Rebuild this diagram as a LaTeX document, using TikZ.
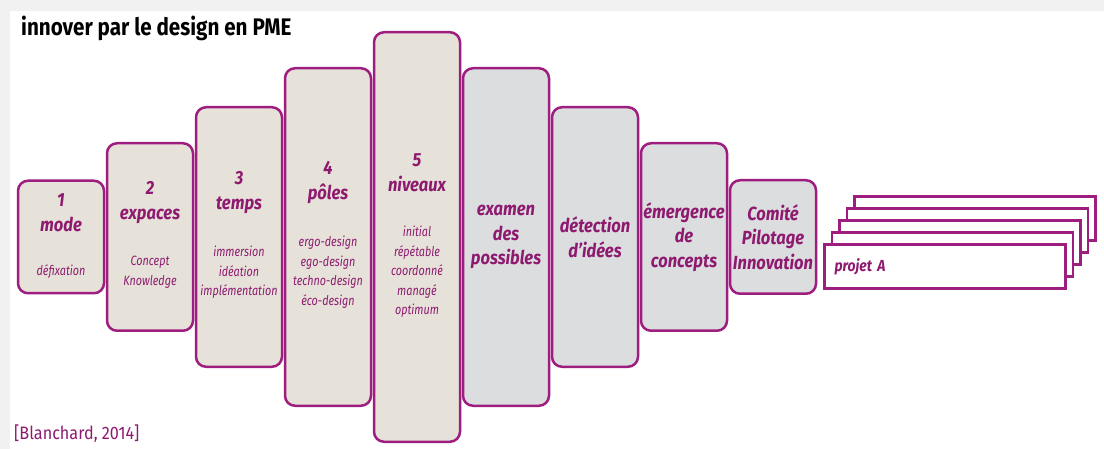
\documentclass[tikz,border=0pt]{standalone}
\usepackage{fontspec}
\setmainfont{Fira Sans}[FakeStretch=0.8]
\newfontfamily\headfont{Fira Sans}[FakeStretch=0.87]
\newfontfamily\titlefont{Fira Sans}[FakeStretch=0.86]
\newfontfamily\reffont{Fira Sans}[FakeStretch=0.9]
\usetikzlibrary{positioning}
\definecolor{pmeborder}{HTML}{9E1E80}
\definecolor{pmetext}{HTML}{8E1A70}
\definecolor{pmebeige}{HTML}{E6E2D9}
\definecolor{pmegrey}{HTML}{DCDDDF}
\definecolor{pmeshade}{HTML}{F1F1F1}

\begin{document}
\begin{tikzpicture}[
    x=1pt, y=-1pt,
    node distance=0.5pt,
    stage/.style={rectangle, rounded corners=10pt, draw=pmeborder, line width=2.5pt,
                  fill=pmebeige, minimum width=86pt, align=center, inner sep=0pt,
                  font=\headfont\fontsize{19}{24.5}\selectfont\bfseries\itshape, text=pmetext},
    phase/.style={stage, fill=pmegrey},
    head/.style={align=center, inner sep=0pt, text=pmetext,
                 font=\headfont\fontsize{19}{25}\selectfont\bfseries\itshape},
    sub/.style={align=center, inner sep=0pt, anchor=north, text=pmetext,
                font=\fontsize{13.5}{19.5}\selectfont\itshape},
    card/.style={rectangle, draw=pmeborder, line width=2.5pt, fill=white,
                 minimum width=241pt, minimum height=44pt}
  ]
    \useasboundingbox (0,0) rectangle (1104,449);
    \fill[pmeshade] (0,0) rectangle (1104,449);
    \fill[white] (10,11) rectangle (1104,449);

    \node[anchor=base west, inner sep=0pt, font=\titlefont\fontsize{24}{24}\selectfont\bfseries] (title) at (21,35.5) {innover par le design en PME};

    % les cinq dimensions
    \node[stage, minimum height=112.5pt] (b1) at (61,237) {};
    \node[stage, minimum height=187.5pt, right=of b1] (b2) {};
    \node[stage, minimum height=259.5pt, right=of b2] (b3) {};
    \node[stage, minimum height=337.5pt, right=of b3] (b4) {};
    \node[stage, minimum height=409.5pt, right=of b4] (b5) {};

    % les phases
    \node[phase, minimum height=337.5pt, right=of b5] (b6) {examen\\ des\\ possibles};
    \node[phase, minimum height=259.5pt, right=of b6] (b7) {détection\\ d’idées};
    \node[phase, minimum height=187.5pt, right=of b7] (b8) {émergence\\ de\\ concepts};
    \node[phase, minimum height=113.5pt, right=of b8] (b9) {Comité\\ Pilotage\\ Innovation};

    \node[head] (h1) at ([yshift=24.5pt]b1.center) {1\\ mode};
    \node[head] (h2) at ([yshift=34.5pt]b2.center) {2\\ expaces};
    \node[head] (h3) at ([yshift=44.5pt]b3.center) {3\\ temps};
    \node[head] (h4) at ([yshift=54.5pt]b4.center) {4\\ pôles};
    \node[head] (h5) at ([yshift=64.5pt]b5.center) {5\\ niveaux};

    \node[sub] (s1) at ([yshift=-27pt]b1.center) {défixation};
    \node[sub] (s2) at ([yshift=-19pt]b2.center) {Concept\\ Knowledge};
    \node[sub] (s3) at ([yshift=-9pt]b3.center) {immersion\\ idéation\\ implémentation};
    \node[sub] (s4) at ([yshift=1pt]b4.center) {ergo-design\\ ego-design\\ techno-design\\ éco-design};
    \node[sub] (s5) at ([yshift=11pt]b5.center) {initial\\ répétable\\ coordonné\\ managé\\ optimum};

    % pile de projets
    \node[card] (p5) at (975,218.5) {};
    \node[card] (p4) at (967.5,230.5) {};
    \node[card] (p3) at (960,242.5) {};
    \node[card] (p2) at (952.5,254.5) {};
    \node[card, text=pmetext, font=\headfont\fontsize{16}{16}\selectfont\bfseries\itshape,
          text width=221pt, align=left] (p1) at (945,266.5) {projet A};

    \node[anchor=base west, inner sep=0pt, text=pmetext, font=\reffont\fontsize{18}{18}\selectfont] (ref) at (14,439) {[Blanchard, 2014]};
  \end{tikzpicture}
\end{document}
